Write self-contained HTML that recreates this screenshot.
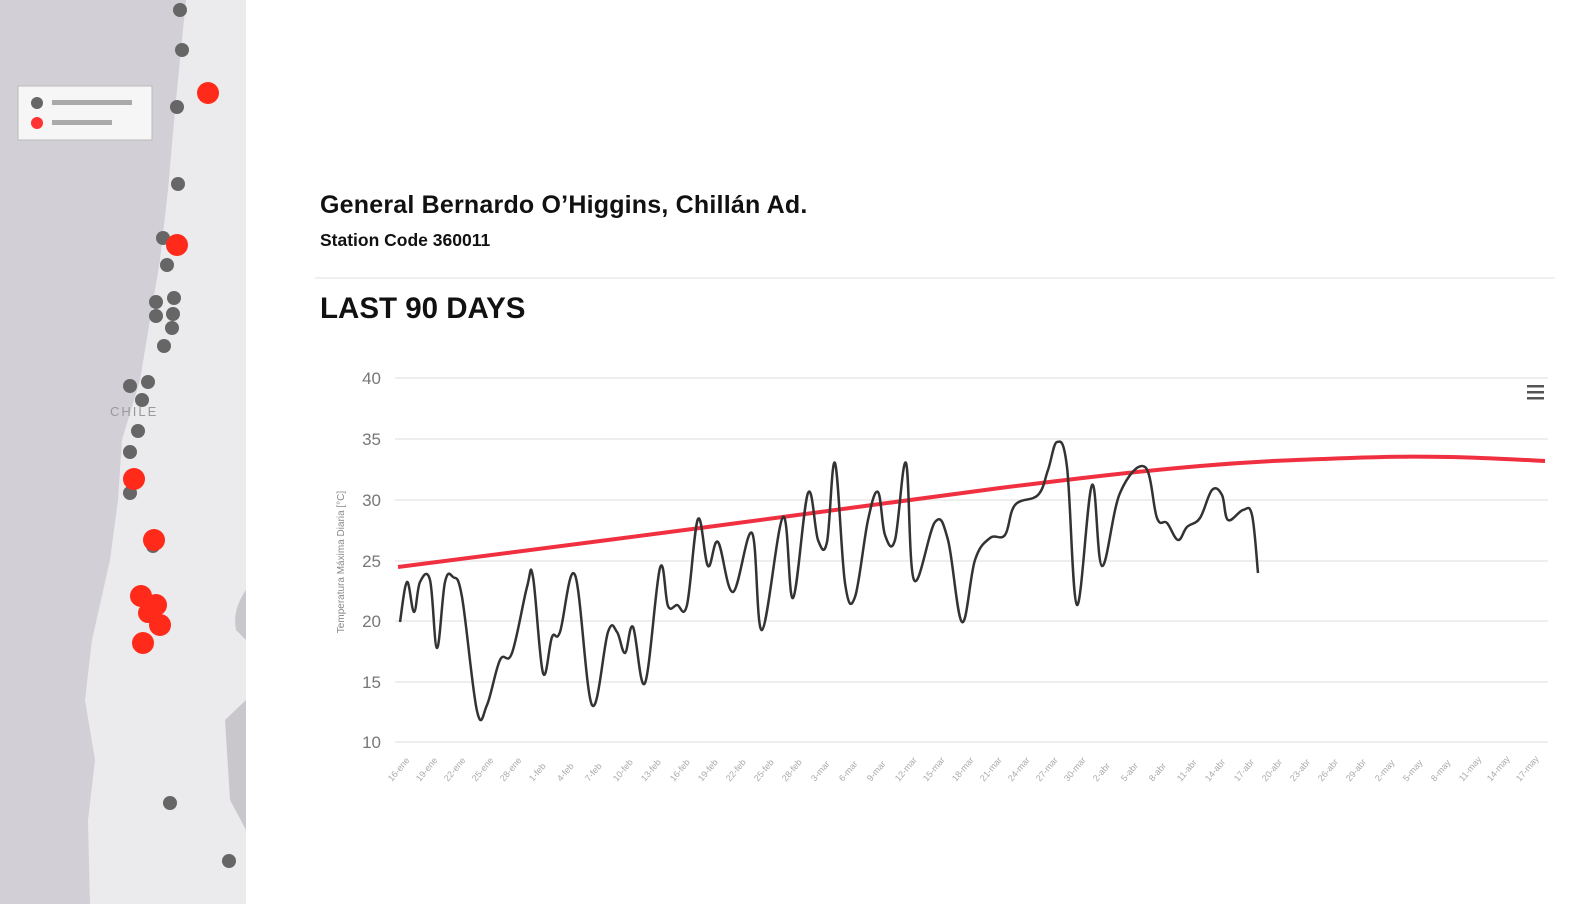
<!DOCTYPE html>
<html><head><meta charset="utf-8"><style>
body{margin:0;width:1576px;height:904px;background:#fff;overflow:hidden;font-family:"Liberation Sans",sans-serif;position:relative}
.t{position:absolute;color:#111;font-weight:bold;white-space:nowrap}
</style></head><body>
<svg width="246" height="904" style="position:absolute;left:0;top:0">
<rect width="246" height="904" fill="#d2d0d6"/>
<path d="M186,0 L246,0 L246,904 L90,904 L88,820 L95,760 L85,700 L92,640 L110,560 L118,500 L122,440 L140,380 L150,320 L160,260 L168,190 L175,110 L182,40 Z" fill="#ebebed"/>
<path d="M246,590 Q232,610 236,630 L246,640 Z M246,700 L225,720 L230,800 L246,830 Z" fill="#c9c7cc"/>
<rect x="18" y="86" width="134" height="54" fill="#f6f6f6" stroke="#bbb"/>
<circle cx="37" cy="103" r="6" fill="#666"/><circle cx="37" cy="123" r="6" fill="#f33"/>
<rect x="52" y="100" width="80" height="5" fill="#aaa"/><rect x="52" y="120" width="60" height="5" fill="#aaa"/>
<g fill="#666">
<circle cx="180" cy="10" r="7"/><circle cx="182" cy="50" r="7"/><circle cx="177" cy="107" r="7"/><circle cx="178" cy="184" r="7"/>
<circle cx="163" cy="238" r="7"/><circle cx="167" cy="265" r="7"/><circle cx="156" cy="302" r="7"/><circle cx="174" cy="298" r="7"/><circle cx="156" cy="316" r="7"/><circle cx="173" cy="314" r="7"/><circle cx="172" cy="328" r="7"/><circle cx="164" cy="346" r="7"/>
<circle cx="130" cy="386" r="7"/><circle cx="148" cy="382" r="7"/><circle cx="142" cy="400" r="7"/><circle cx="138" cy="431" r="7"/><circle cx="130" cy="452" r="7"/><circle cx="130" cy="493" r="7"/><circle cx="153" cy="546" r="7"/><circle cx="170" cy="803" r="7"/><circle cx="229" cy="861" r="7"/></g>
<g fill="#ff2a1a">
<circle cx="208" cy="93" r="11"/><circle cx="177" cy="245" r="11"/><circle cx="134" cy="479" r="11"/><circle cx="154" cy="540" r="11"/>
<circle cx="141" cy="596" r="11"/><circle cx="156" cy="605" r="11"/><circle cx="160" cy="625" r="11"/><circle cx="143" cy="643" r="11"/><circle cx="148" cy="613" r="10"/></g>
<text x="110" y="416" font-size="13" fill="#999" letter-spacing="2">CHILE</text>
</svg>
<div class="t" style="left:320px;top:191px;font-size:25px;letter-spacing:0.2px">General Bernardo O’Higgins, Chillán Ad.</div>
<div class="t" style="left:320px;top:230px;font-size:17.5px">Station Code 360011</div>
<div style="position:absolute;left:315px;top:277px;width:1240px;height:2px;background:#f0f0f0"></div>
<div class="t" style="left:320px;top:292px;font-size:29.5px">LAST 90 DAYS</div>
<svg width="1576" height="904" style="position:absolute;left:0;top:0">
<g stroke="#eee" stroke-width="2">
<line x1="395" y1="378" x2="1548" y2="378"/><line x1="395" y1="439" x2="1548" y2="439"/><line x1="395" y1="500" x2="1548" y2="500"/><line x1="395" y1="561" x2="1548" y2="561"/><line x1="395" y1="621" x2="1548" y2="621"/><line x1="395" y1="682" x2="1548" y2="682"/><line x1="395" y1="742" x2="1548" y2="742"/></g>
<g font-size="17" fill="#777" text-anchor="end" font-family="Liberation Sans">
<text x="381" y="384">40</text><text x="381" y="445">35</text><text x="381" y="506">30</text><text x="381" y="567">25</text><text x="381" y="627">20</text><text x="381" y="688">15</text><text x="381" y="748">10</text></g>
<text transform="translate(344,562) rotate(-90)" font-size="10" fill="#888" text-anchor="middle">Temperatura Máxima Diaria [°C]</text>
<path id="red" d="M398,567 L1545,461" fill="none" stroke="#f03040" stroke-width="4"/>
<path id="blk" d="" fill="none" stroke="#333" stroke-width="2.5" stroke-linejoin="round"/>
<g fill="#555"><rect x="1527" y="385" width="17" height="2.5"/><rect x="1527" y="391" width="17" height="2.5"/><rect x="1527" y="397" width="17" height="2.5"/></g>
</svg>
<svg width="1576" height="904" style="position:absolute;left:0;top:0">
<g font-size="9" fill="#aaa" font-family="Liberation Sans">
<text transform="translate(392,782) rotate(-50)">16-ene</text><text transform="translate(420,782) rotate(-50)">19-ene</text><text transform="translate(448,782) rotate(-50)">22-ene</text><text transform="translate(476,782) rotate(-50)">25-ene</text><text transform="translate(504,782) rotate(-50)">28-ene</text><text transform="translate(533,782) rotate(-50)">1-feb</text><text transform="translate(561,782) rotate(-50)">4-feb</text><text transform="translate(589,782) rotate(-50)">7-feb</text><text transform="translate(617,782) rotate(-50)">10-feb</text><text transform="translate(645,782) rotate(-50)">13-feb</text><text transform="translate(674,782) rotate(-50)">16-feb</text><text transform="translate(702,782) rotate(-50)">19-feb</text><text transform="translate(730,782) rotate(-50)">22-feb</text><text transform="translate(758,782) rotate(-50)">25-feb</text><text transform="translate(786,782) rotate(-50)">28-feb</text><text transform="translate(815,782) rotate(-50)">3-mar</text><text transform="translate(843,782) rotate(-50)">6-mar</text><text transform="translate(871,782) rotate(-50)">9-mar</text><text transform="translate(899,782) rotate(-50)">12-mar</text><text transform="translate(927,782) rotate(-50)">15-mar</text><text transform="translate(956,782) rotate(-50)">18-mar</text><text transform="translate(984,782) rotate(-50)">21-mar</text><text transform="translate(1012,782) rotate(-50)">24-mar</text><text transform="translate(1040,782) rotate(-50)">27-mar</text><text transform="translate(1068,782) rotate(-50)">30-mar</text><text transform="translate(1097,782) rotate(-50)">2-abr</text><text transform="translate(1125,782) rotate(-50)">5-abr</text><text transform="translate(1153,782) rotate(-50)">8-abr</text><text transform="translate(1181,782) rotate(-50)">11-abr</text><text transform="translate(1209,782) rotate(-50)">14-abr</text><text transform="translate(1238,782) rotate(-50)">17-abr</text><text transform="translate(1266,782) rotate(-50)">20-abr</text><text transform="translate(1294,782) rotate(-50)">23-abr</text><text transform="translate(1322,782) rotate(-50)">26-abr</text><text transform="translate(1350,782) rotate(-50)">29-abr</text><text transform="translate(1379,782) rotate(-50)">2-may</text><text transform="translate(1407,782) rotate(-50)">5-may</text><text transform="translate(1435,782) rotate(-50)">8-may</text><text transform="translate(1463,782) rotate(-50)">11-may</text><text transform="translate(1491,782) rotate(-50)">14-may</text><text transform="translate(1520,782) rotate(-50)">17-may</text>
</g></svg>
<script>
function smooth(p){var d="M"+p[0][0]+","+p[0][1];for(var i=0;i<p.length-1;i++){var a=p[i-1]||p[i],b=p[i],c=p[i+1],e=p[i+2]||c;var t=0.18;
d+=" C"+(b[0]+(c[0]-a[0])*t)+","+(b[1]+(c[1]-a[1])*t)+" "+(c[0]-(e[0]-b[0])*t)+","+(c[1]-(e[1]-b[1])*t)+" "+c[0]+","+c[1];}return d;}
var B=[[400,622],[407,582],[414,612],[420,582],[430,580],[437,648],[445,582],[453,577],[462,597],[477,711],[487,705],[500,660],[512,653],[527,587],[533,577],[543,673],[552,637],[560,632],[575,575],[592,705],[608,632],[617,632],[625,653],[633,627],[645,683],[660,568],[668,606],[677,605],[687,605],[698,519],[708,566],[718,542],[733,592],[752,533],[762,630],[783,517],[793,598],[808,493],[818,540],[827,542],[835,463],[845,583],[855,597],[868,520],[878,492],[885,535],[895,540],[906,463],[914,580],[935,522],[948,540],[962,622],[975,560],[990,538],[1005,535],[1015,505],[1038,495],[1048,470],[1057,442],[1067,467],[1077,605],[1092,485],[1102,566],[1120,493],[1145,467],[1157,518],[1167,523],[1178,540],[1187,527],[1200,518],[1212,490],[1222,495],[1228,520],[1243,510],[1252,515],[1258,573]];
document.getElementById("blk").setAttribute("d",smooth(B));
var R=[[398,567],[700,528],[1000,488],[1200,466],[1350,458],[1450,457],[1545,461]];
document.getElementById("red").setAttribute("d",smooth(R));
</script>
</body></html>
